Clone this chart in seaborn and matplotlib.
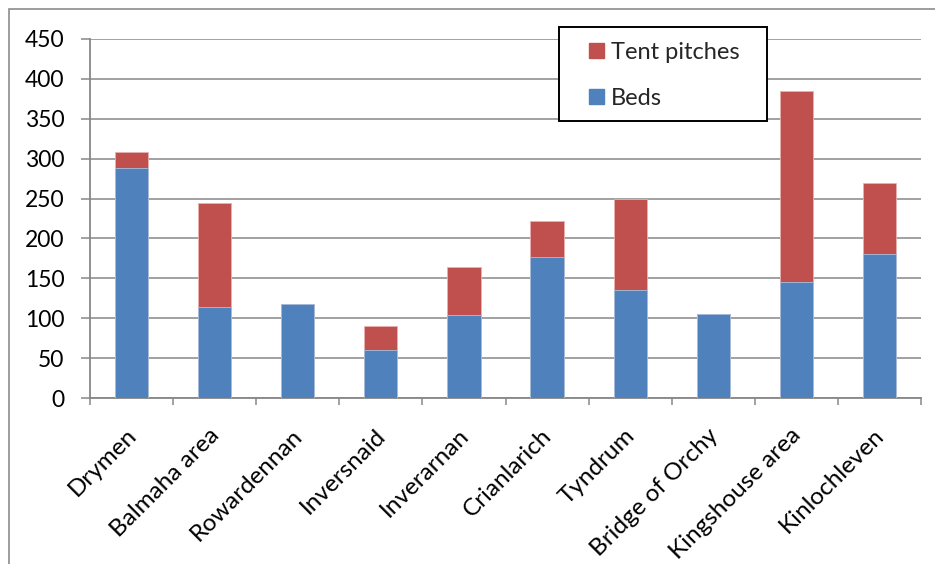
import matplotlib
matplotlib.use("Agg")
import matplotlib.pyplot as plt
from matplotlib.patches import Patch, Rectangle
from matplotlib.transforms import ScaledTranslation
import numpy as np
import pandas as pd
import seaborn as sns

# Accommodation along the route
places = ["Drymen", "Balmaha area", "Rowardennan", "Inversnaid", "Inverarnan",
          "Crianlarich", "Tyndrum", "Bridge of Orchy", "Kingshouse area", "Kinlochleven"]
beds = [288, 114, 118, 61, 104, 177, 136, 105, 145, 180]
tent_pitches = [20, 130, 0, 30, 60, 45, 114, 0, 240, 90]
y_ticks = [0, 50, 100, 150, 200, 250, 300, 350, 400, 450]

df = pd.DataFrame({"place": places, "Beds": beds, "Tent pitches": tent_pitches})
df["Total"] = df["Beds"] + df["Tent pitches"]

BLUE = "#4F81BD"
RED = "#C0504D"
GRID = "#878787"

sns.set_theme(style="white")
plt.rcParams["font.family"] = ["Lato", "DejaVu Sans"]

W, H = 935, 564
fig = plt.figure(figsize=(W / 100, H / 100), dpi=100)
ax = fig.add_axes([90 / W, 1 - 398.3 / H, (921 - 90) / W, (398.3 - 38.7) / H])

# Stacked bars: full height in red, beds drawn over it in blue
sns.barplot(data=df, x="place", y="Total", color=RED, width=0.4, ax=ax,
            saturation=1, edgecolor="#e8b0ae", linewidth=0.6, zorder=3)
sns.barplot(data=df, x="place", y="Beds", color=BLUE, width=0.4, ax=ax,
            saturation=1, edgecolor="#a9c0de", linewidth=0.6, zorder=4)

ax.set_xlim(-0.5, len(places) - 0.5)
ax.set_ylim(0, 450)
ax.set_yticks(y_ticks)
ax.set_yticklabels([str(v) for v in y_ticks], fontsize=16.5, color="#000000")
ax.set_xlabel("")
ax.set_ylabel("")

ax.grid(axis="y", color=GRID, linewidth=1.1, zorder=0)
ax.set_axisbelow(True)
for side in ("top", "right"):
    ax.spines[side].set_visible(False)
for side in ("left", "bottom"):
    ax.spines[side].set_color(GRID)
    ax.spines[side].set_linewidth(1.3)

ax.tick_params(axis="y", which="major", direction="out", length=6.5, width=1.1,
               color=GRID, pad=12, left=True)
# category separators below the axis
ax.set_xticks(np.arange(-0.5, len(places)), minor=True)
ax.tick_params(axis="x", which="minor", direction="out", length=5, width=1.1,
               color=GRID, bottom=True)
ax.set_xticks(np.arange(len(places)))
ax.tick_params(axis="x", which="major", length=0, pad=19)
ax.set_xticklabels(places, rotation=45, ha="right", rotation_mode="anchor",
                   fontsize=17.5, color="#000000")
shift = ScaledTranslation(-6 / 100, 0, fig.dpi_scale_trans)
for lbl in ax.get_xticklabels():
    lbl.set_transform(lbl.get_transform() + shift)

handles = [Patch(facecolor=RED, edgecolor=RED, label="Tent pitches"),
           Patch(facecolor=BLUE, edgecolor=BLUE, label="Beds")]
fs = 17
hl = 15 / (fs * 100 / 72)
leg = fig.legend(handles=handles, loc="upper left",
                 bbox_to_anchor=(589 / W, 1 - 42 / H), frameon=False,
                 fontsize=fs, handlelength=hl, handleheight=hl,
                 handletextpad=0.3, labelspacing=1.05,
                 borderpad=0, borderaxespad=0)

# legend box
fig.patches.append(Rectangle((559 / W, 1 - 121 / H), (767 - 559) / W, (121 - 27) / H,
                             transform=fig.transFigure, facecolor="white",
                             edgecolor="#000000", linewidth=1.4, zorder=5))
leg.set_zorder(6)

# chart-area border
fig.patches.append(Rectangle((9 / W, -0.05), 1.2, 1 - 9 / H + 0.05,
                             transform=fig.transFigure, fill=False,
                             edgecolor="#8c8c8c", linewidth=1.2))

fig.savefig("out.png", dpi=100, facecolor="white")
